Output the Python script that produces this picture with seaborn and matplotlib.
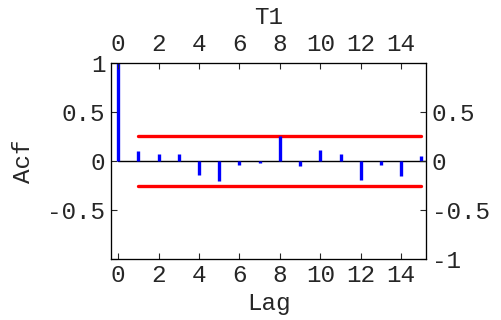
import numpy as np
import pandas as pd
import matplotlib
matplotlib.use("Agg")
import matplotlib.pyplot as plt
import seaborn as sns

# autocorrelation values
lags = [0, 1, 2, 3, 4, 5, 6, 7, 8, 9, 10, 11, 12, 13, 14, 15]
acf = [1.0, 0.095, 0.068, 0.068, -0.143, -0.21, -0.04, -0.018, 0.248, -0.05,
       0.112, 0.07, -0.195, -0.04, -0.155, 0.05]
band = 0.255
band_lags = [1, 15]

xticks = [0, 2, 4, 6, 8, 10, 12, 14]
yticks = [-1, -0.5, 0, 0.5, 1]
left_labels = ["", "-0.5", "0", "0.5", "1"]
right_labels = ["-1", "-0.5", "0", "0.5", ""]

FS = 17.5

sns.set_style("ticks")
plt.rcParams["font.family"] = ["Liberation Mono", "DejaVu Sans"]
plt.rcParams["axes.unicode_minus"] = False

fig = plt.figure(figsize=(5.02, 3.2), dpi=100)
ax = fig.add_axes([0.221, 0.191, 0.628, 0.613])

# zero line
ax.plot([0, 15.3], [0, 0], color="black", lw=1, zorder=1)

# confidence band
df_band = pd.DataFrame({"lag": band_lags * 2,
                        "val": [band, band, -band, -band],
                        "side": ["up", "up", "lo", "lo"]})
sns.lineplot(data=df_band, x="lag", y="val", units="side", estimator=None,
             color="red", lw=2.4, ax=ax, zorder=2)

# acf stems
ax.vlines(lags, 0, acf, color="blue", lw=2.4, zorder=3)

ax.set_xlim(-0.36, 15.24)
ax.set_ylim(-1, 1)
ax.set_xticks(xticks)
ax.set_xticklabels([str(t) for t in xticks])
ax.set_yticks(yticks)
ax.set_yticklabels(left_labels)
ax.set_xlabel("Lag", fontsize=FS, labelpad=3)
ax.set_ylabel("Acf", fontsize=FS, labelpad=9)
ax.tick_params(direction="in", length=4, width=0.8, labelsize=FS, pad=4,
               top=True, right=True)

axt = ax.twiny()
axt.set_xlim(ax.get_xlim())
axt.set_xticks(xticks)
axt.set_xticklabels([str(t) for t in xticks])
axt.set_xlabel("T1", fontsize=FS, labelpad=6)
axt.tick_params(direction="in", length=4, width=0.8, labelsize=FS, pad=5)

axr = ax.twinx()
axr.set_ylim(ax.get_ylim())
axr.set_yticks(yticks)
axr.set_yticklabels(right_labels)
axr.tick_params(direction="in", length=4, width=0.8, labelsize=FS, pad=4)

for a in (ax, axt, axr):
    for s in a.spines.values():
        s.set_visible(True)
        s.set_linewidth(0.8)
        s.set_color("black")

fig.savefig("out.png", dpi=100)
